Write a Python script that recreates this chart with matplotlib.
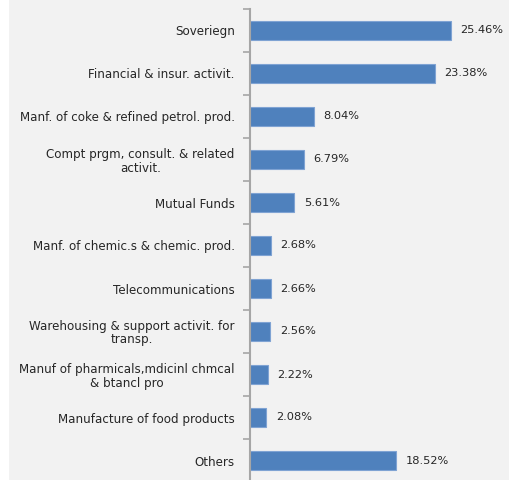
import matplotlib
matplotlib.use("Agg")
import matplotlib.pyplot as plt
from matplotlib.patches import Rectangle

categories = ["Soveriegn", "Financial & insur. activit.",
              "Manf. of coke & refined petrol. prod.",
              "Compt prgm, consult. & related\nactivit.",
              "Mutual Funds", "Manf. of chemic.s & chemic. prod.",
              "Telecommunications",
              "Warehousing & support activit. for\ntransp.",
              "Manuf of pharmicals,mdicinl chmcal\n& btancl pro",
              "Manufacture of food products", "Others"]
values = [25.46, 23.38, 8.04, 6.79, 5.61, 2.68, 2.66, 2.56, 2.22, 2.08, 18.52]

W, H = 509, 480
fig = plt.figure(figsize=(W / 100, H / 100), dpi=100, facecolor="#F2F2F2")
fig.patches.append(Rectangle((0, 0), 9 / W, 1, transform=fig.transFigure,
                             facecolor="white", edgecolor="none", zorder=-1))

# axis spans y=9..482 px (bottom cut off by image)
ax = fig.add_axes([250 / W, (H - 482) / H, (W - 250) / W, 473 / H])
ax.set_facecolor("none")

n = len(categories)
ypos = list(range(n))
ax.barh(ypos, values, height=0.42, color="#4F81BD", edgecolor="#7FA3D3",
        linewidth=0.8)
ax.set_ylim(n - 0.5, -0.5)
ax.set_xlim(0, (W - 250) / 7.9)

for y, v in zip(ypos, values):
    ax.text(v + 1.2, y, f"{v:.2f}%", va="center", ha="left",
            fontsize=8.2, color="#262626")

ax.set_yticks(ypos)
ax.set_yticklabels(categories, fontsize=8.6, color="#262626")
ax.tick_params(axis="y", length=0, pad=11)
ax.set_yticks([i - 0.5 for i in range(n + 1)], minor=True)
ax.tick_params(axis="y", which="minor", length=5, width=1.2, color="#A6A6A6")
for lbl in ax.get_yticklabels():
    lbl.set_multialignment("center")
    lbl.set_linespacing(1.05)

ax.set_xticks([])
for s in ["top", "right", "bottom"]:
    ax.spines[s].set_visible(False)
ax.spines["left"].set_color("#A6A6A6")
ax.spines["left"].set_linewidth(1.5)

fig.savefig("out.png", dpi=100, facecolor=fig.get_facecolor())
